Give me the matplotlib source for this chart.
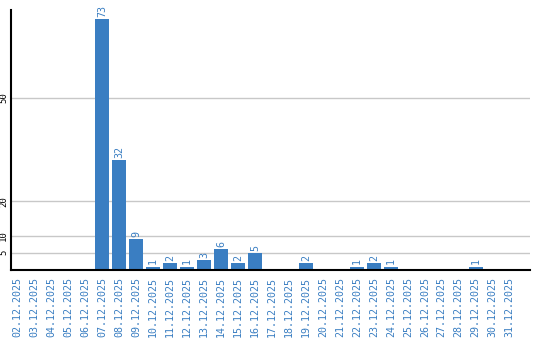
import matplotlib
matplotlib.use("Agg")
import matplotlib.pyplot as plt

dates = ["02.12.2025", "03.12.2025", "04.12.2025", "05.12.2025", "06.12.2025",
         "07.12.2025", "08.12.2025", "09.12.2025", "10.12.2025", "11.12.2025",
         "12.12.2025", "13.12.2025", "14.12.2025", "15.12.2025", "16.12.2025",
         "17.12.2025", "18.12.2025", "19.12.2025", "20.12.2025", "21.12.2025",
         "22.12.2025", "23.12.2025", "24.12.2025", "25.12.2025", "26.12.2025",
         "27.12.2025", "28.12.2025", "29.12.2025", "30.12.2025", "31.12.2025"]
counts = [0, 0, 0, 0, 0, 73, 32, 9, 1, 2, 1, 3, 6, 2, 5,
          0, 0, 2, 0, 0, 1, 2, 1, 0, 0, 0, 0, 1, 0, 0]
yticks = [5, 10, 20, 50]

blue = "#3a7ec2"

fig = plt.figure(figsize=(5.4, 3.4), dpi=100)
ax = fig.add_axes([11 / 540, 70 / 340, 519 / 540, 260 / 340])

x = range(len(dates))
ax.bar(x, counts, width=0.82, color=blue, zorder=3)

for i, v in enumerate(counts):
    if v > 0:
        ax.annotate(str(v), (i, v), xytext=(0, 1.5), textcoords="offset points",
                    ha="center", va="bottom", rotation=90, color=blue,
                    fontsize=7.2, family="DejaVu Sans Mono")

ax.set_xlim(-0.38, 30.2)
ax.set_ylim(0, 75.6)
ax.set_xticks(list(x))
ax.set_xticklabels(dates, rotation=90, color=blue, fontsize=7.2, family="DejaVu Sans Mono")
ax.set_yticks(yticks)
ax.set_yticklabels([str(t) for t in yticks], rotation=90, va="center",
                   fontsize=6.5, family="DejaVu Sans Mono")
ax.tick_params(axis="both", length=0)
ax.tick_params(axis="x", pad=5)
ax.tick_params(axis="y", pad=2)

ax.grid(axis="y", color="#c8c8c8", linewidth=1, zorder=0)
for s in ["top", "right"]:
    ax.spines[s].set_visible(False)
for s in ["left", "bottom"]:
    ax.spines[s].set_linewidth(1.5)
    ax.spines[s].set_zorder(4)

fig.savefig("out.png", dpi=100)
